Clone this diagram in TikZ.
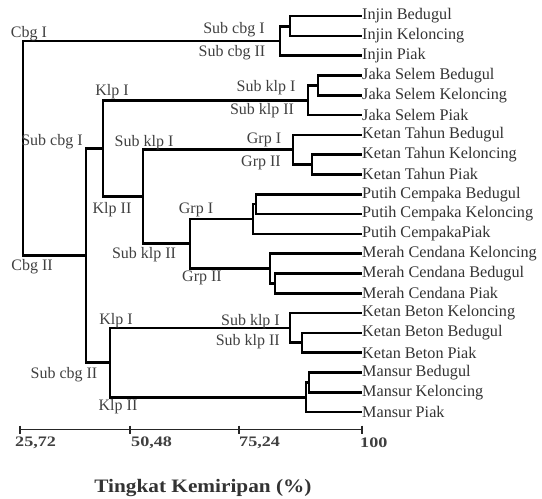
\documentclass[tikz,border=0pt]{standalone}
\usepackage{fontspec}
\setmainfont{Liberation Serif}
\newfontfamily\stretchfont[FakeStretch=1.25]{Liberation Serif}
\newfontfamily\titlefont[FakeStretch=1.12]{Liberation Serif}
\begin{document}
\begin{tikzpicture}[x=1pt,y=-1pt,
  branch/.style={line width=2.6pt,line join=miter,black},
  axisline/.style={line width=1.8pt,black!85},
  leaflabel/.style={anchor=west,inner sep=0pt,font=\fontsize{16.2}{18}\selectfont,text=black!80},
  grouplabel/.style={inner sep=0pt,font=\fontsize{16}{18}\selectfont,text=black!75},
  ticklabel/.style={anchor=west,inner sep=0pt,font=\stretchfont\bfseries\fontsize{14.5}{16}\selectfont,text=black!75},
  titlelabel/.style={inner sep=0pt,font=\titlefont\bfseries\fontsize{19}{22}\selectfont,text=black!80}]
\useasboundingbox (0,0) rectangle (542,499);
% leaves
\foreach \i/\t in {1/Injin Bedugul,2/Injin Keloncing,3/Injin Piak,4/Jaka Selem Bedugul,5/Jaka Selem Keloncing,6/Jaka Selem Piak,7/Ketan Tahun Bedugul,8/Ketan Tahun Keloncing,9/Ketan Tahun Piak,10/Putih Cempaka Bedugul,11/Putih Cempaka Keloncing,12/Putih CempakaPiak,13/Merah Cendana Keloncing,14/Merah Cendana Bedugul,15/Merah Cendana Piak,16/Ketan Beton Keloncing,17/Ketan Beton Bedugul,18/Ketan Beton Piak,19/Mansur Bedugul,20/Mansur Keloncing,21/Mansur Piak}{
  \coordinate (L\i) at (362,{16+19.8*(\i-1)});
  \node[leaflabel] (T\i) at (L\i) {\t};
}
% internal nodes
\coordinate (i12) at (290,26.4);
\coordinate (iInj) at (280,41);
\coordinate (i45) at (318,85.3);
\coordinate (iJak) at (308,100.2);
\coordinate (i89) at (312,164.5);
\coordinate (iTah) at (293,149.6);
\coordinate (i1011) at (256,204.1);
\coordinate (iPut) at (253,219);
\coordinate (i1415) at (275,283.3);
\coordinate (iMer) at (270,268.5);
\coordinate (iGrp) at (190,243.7);
\coordinate (iSK) at (143,196.7);
\coordinate (iKlpA) at (103,148.4);
\coordinate (i1718) at (302,342.7);
\coordinate (iBet) at (290,327.9);
\coordinate (i1920) at (309,382.3);
\coordinate (iMan) at (306,397.2);
\coordinate (iKlpB) at (110,362.5);
\coordinate (iSC) at (86,255.5);
\coordinate (root) at (23,148.2);
% branches
\draw[branch] (i12) |- (L1) (i12) |- (L2);
\draw[branch] (iInj) |- (i12) (iInj) |- (L3);
\draw[branch] (i45) |- (L4) (i45) |- (L5);
\draw[branch] (iJak) |- (i45) (iJak) |- (L6);
\draw[branch] (i89) |- (L8) (i89) |- (L9);
\draw[branch] (iTah) |- (L7) (iTah) |- (i89);
\draw[branch] (i1011) |- (L10) (i1011) |- (L11);
\draw[branch] (iPut) |- (i1011) (iPut) |- (L12);
\draw[branch] (i1415) |- (L14) (i1415) |- (L15);
\draw[branch] (iMer) |- (L13) (iMer) |- (i1415);
\draw[branch] (iGrp) |- (iPut) (iGrp) |- (iMer);
\draw[branch] (iSK) |- (iTah) (iSK) |- (iGrp);
\draw[branch] (iKlpA) |- (iJak) (iKlpA) |- (iSK);
\draw[branch] (i1718) |- (L17) (i1718) |- (L18);
\draw[branch] (iBet) |- (L16) (iBet) |- (i1718);
\draw[branch] (i1920) |- (L19) (i1920) |- (L20);
\draw[branch] (iMan) |- (i1920) (iMan) |- (L21);
\draw[branch] (iKlpB) |- (iBet) (iKlpB) |- (iMan);
\draw[branch] (iSC) |- (iKlpA) (iSC) |- (iKlpB);
\draw[branch] (root) |- (iInj) (root) |- (iSC);
% group labels
\node[grouplabel] (g1) at (29,34) {Cbg I};
\node[grouplabel] (g2) at (234,30) {Sub cbg I};
\node[grouplabel] (g3) at (232,53) {Sub cbg II};
\node[grouplabel] (g4) at (266,88) {Sub klp I};
\node[grouplabel] (g5) at (262,111) {Sub klp II};
\node[grouplabel] (g6) at (112,92) {Klp I};
\node[grouplabel] (g7) at (52,142) {Sub cbg I};
\node[grouplabel] (g8) at (144,143) {Sub klp I};
\node[grouplabel] (g9) at (264,140) {Grp I};
\node[grouplabel] (g10) at (261,163) {Grp II};
\node[grouplabel] (g11) at (112,210) {Klp II};
\node[grouplabel] (g12) at (196,210) {Grp I};
\node[grouplabel] (g13) at (144,255) {Sub klp II};
\node[grouplabel] (g14) at (32,267) {Cbg II};
\node[grouplabel] (g15) at (202,278) {Grp II};
\node[grouplabel] (g16) at (116,321) {Klp I};
\node[grouplabel,anchor=east] (g17) at (280,322) {Sub klp I};
\node[grouplabel,anchor=east] (g18) at (280,342) {Sub klp II};
\node[grouplabel] (g19) at (64,375) {Sub cbg II};
\node[grouplabel] (g20) at (118,407) {Klp II};
% axis
\coordinate (A0) at (20,429.5);
\coordinate (A1) at (130,429.5);
\coordinate (A2) at (239,429.5);
\coordinate (A3) at (362,429.5);
\draw[axisline] (A0) -- (A3);
\foreach \a in {A0,A1,A2,A3}{
  \draw[axisline,line width=1.2pt] ([yshift=4pt]\a) -- ([yshift=-4pt]\a);
}
\node[ticklabel] (t0) at (15,443) {25,72};
\node[ticklabel] (t1) at (131,443) {50,48};
\node[ticklabel] (t2) at (239,443) {75,24};
\node[ticklabel] (t3) at (360,443) {100};
\node[titlelabel] (title) at (203,488) {Tingkat Kemiripan (\%)};
\end{tikzpicture}
\end{document}
